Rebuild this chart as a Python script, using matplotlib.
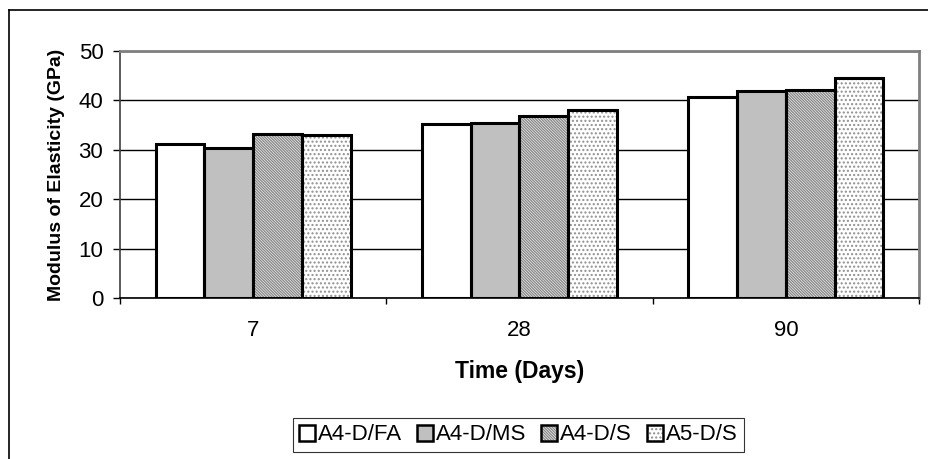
import matplotlib
matplotlib.use("Agg")
import matplotlib.pyplot as plt
from matplotlib.patches import Patch
from matplotlib.legend_handler import HandlerTuple
from matplotlib.lines import Line2D

plt.rcParams["font.family"] = ["Liberation Sans", "DejaVu Sans"]
plt.rcParams["hatch.linewidth"] = 1.0

days = ["7", "28", "90"]
series = ["A4-D/FA", "A4-D/MS", "A4-D/S", "A5-D/S"]
a4_fa = [31.2, 35.2, 40.6]
a4_ms = [30.3, 35.4, 42.0]
a4_s = [33.1, 36.8, 42.1]
a5_s = [33.0, 38.1, 44.5]
values = [a4_fa, a4_ms, a4_s, a5_s]

# fill colour, hatch, hatch colour
styles = [
    ("white", "", "white"),
    ("#c0c0c0", "", "#c0c0c0"),
    ("white", "\\\\\\\\\\\\\\\\\\\\\\\\", "#8a8a8a"),
    ("white", "....", "#909090"),
]

W, H = 929, 459
fig = plt.figure(figsize=(W / 100, H / 100), dpi=100)
ax = fig.add_axes([120 / W, 1 - 298 / H, 799 / W, 247 / H])

# outer chart border (cut at right and bottom)
fig.add_artist(Line2D([9.5 / W, 9.5 / W], [0, 1 - 9.5 / H], transform=fig.transFigure, color="black", lw=1.2))
fig.add_artist(Line2D([9.5 / W, 1], [1 - 9.5 / H, 1 - 9.5 / H], transform=fig.transFigure, color="black", lw=1.2))

width = 0.183
centers = [0.5, 1.5, 2.5]
handles = []
for i, (vals, (fc, hatch, hc)) in enumerate(zip(values, styles)):
    xs = [c + (i - 1.5) * width for c in centers]
    ax.bar(xs, vals, width, color=fc, hatch=hatch, edgecolor=hc, linewidth=0, zorder=2)
    ax.bar(xs, vals, width, facecolor="none", edgecolor="black", linewidth=2.2, zorder=3)
    h1 = Patch(facecolor=fc, hatch=hatch, edgecolor=hc, linewidth=0)
    h2 = Patch(facecolor="none", edgecolor="black", linewidth=1.8)
    handles.append((h1, h2))

ax.set_xlim(0, 3)
ax.set_ylim(0, 50)
ax.set_yticks([0, 10, 20, 30, 40, 50])
ax.yaxis.grid(True, color="black", linewidth=1.0)
ax.set_axisbelow(True)

ax.set_xticks([0, 1, 2, 3])
ax.set_xticklabels([])
ax.set_xticks(centers, minor=True)
ax.set_xticklabels(days, minor=True)
ax.tick_params(axis="x", which="major", length=4, width=1, color="black", direction="out")
ax.tick_params(axis="x", which="minor", length=0, pad=16, labelsize=16)
ax.tick_params(axis="y", length=5, width=1, color="black", direction="out", pad=7, labelsize=16)

for s in ["top", "right"]:
    ax.spines[s].set_color("#808080")
    ax.spines[s].set_linewidth(2)
ax.spines["left"].set_color("#404040")
ax.spines["left"].set_linewidth(1.2)
ax.spines["bottom"].set_color("black")
ax.spines["bottom"].set_linewidth(1.2)

ax.set_xlabel("Time (Days)", fontsize=16.5, fontweight="bold")
ax.xaxis.set_label_coords(0.5, -0.252)
ax.set_ylabel("Modulus of Elasticity (GPa)", fontsize=14, fontweight="bold")
ax.yaxis.set_label_coords(-0.069, 0.5)

leg = fig.legend(handles, series, loc="center", bbox_to_anchor=(518.5 / W, 1 - 435 / H),
                 ncol=4, fontsize=16, frameon=True, fancybox=False, edgecolor="black",
                 handlelength=0.72, handleheight=0.72, handletextpad=0.14, columnspacing=0.66,
                 borderpad=0.3, handler_map={tuple: HandlerTuple(ndivide=1)})
leg.get_frame().set_linewidth(0.8)

fig.savefig("out.png", dpi=100)
